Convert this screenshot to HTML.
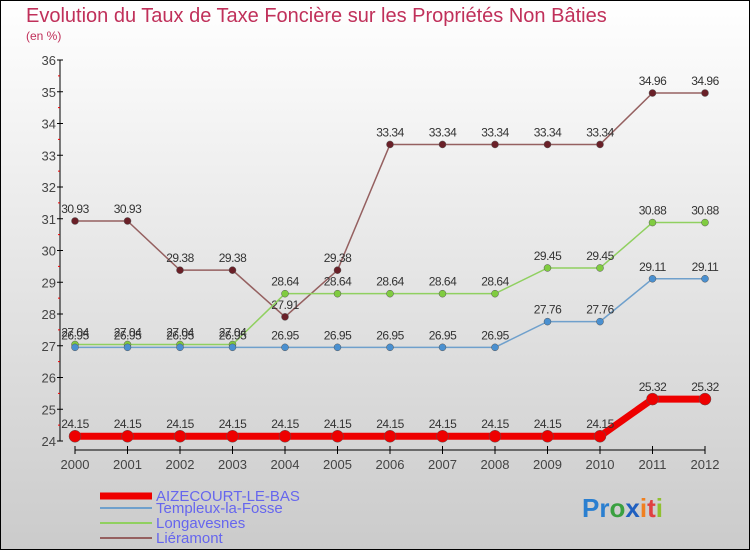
<!DOCTYPE html>
<html><head><meta charset="utf-8"><style>
body{margin:0}
svg{display:block;font-family:"Liberation Sans",sans-serif}
</style></head><body>
<svg width="750" height="550" viewBox="0 0 750 550">
<defs><linearGradient id="bg" x1="0" y1="0" x2="0" y2="1"><stop offset="0" stop-color="#ffffff"/><stop offset="1" stop-color="#cbcbcb"/></linearGradient></defs>
<rect x="0.5" y="0.5" width="749" height="549" fill="url(#bg)" stroke="#000"/>
<text x="26" y="22" font-size="20" fill="#c0305a">Evolution du Taux de Taxe Foncière sur les Propriétés Non Bâties</text>
<text x="26" y="40" font-size="12" fill="#c0305a">(en %)</text>
<g id="axes"></g>
<g id="series"></g>
<g id="legend" font-size="15">
<line x1="100" y1="496" x2="152" y2="496" stroke="#e00" stroke-width="7"/>
<text x="156" y="501" fill="#6666ee">AIZECOURT-LE-BAS</text>
<line x1="100" y1="508" x2="152" y2="508" stroke="#6fa0cc" stroke-width="2"/>
<text x="156" y="513" fill="#6666ee">Templeux-la-Fosse</text>
<line x1="100" y1="523" x2="152" y2="523" stroke="#90d060" stroke-width="2"/>
<text x="156" y="528" fill="#6666ee">Longavesnes</text>
<line x1="100" y1="538" x2="152" y2="538" stroke="#956060" stroke-width="2"/>
<text x="156" y="543" fill="#6666ee">Liéramont</text>
</g>
<text x="582" y="517" font-size="26" font-weight="bold"><tspan fill="#2a7fd0">Pr</tspan><tspan fill="#3aa040">o</tspan><tspan fill="#2060c0">x</tspan><tspan fill="#f08020">i</tspan><tspan fill="#e04040">t</tspan><tspan fill="#90c030">i</tspan></text>
</svg>
<script>
const years=[2000,2001,2002,2003,2004,2005,2006,2007,2008,2009,2010,2011,2012];
const yTicks=[24,25,26,27,28,29,30,31,32,33,34,35,36];
const aizecourt=[24.15,24.15,24.15,24.15,24.15,24.15,24.15,24.15,24.15,24.15,24.15,25.32,25.32];
const templeux=[26.95,26.95,26.95,26.95,26.95,26.95,26.95,26.95,26.95,27.76,27.76,29.11,29.11];
const longavesnes=[27.04,27.04,27.04,27.04,28.64,28.64,28.64,28.64,28.64,29.45,29.45,30.88,30.88];
const lieramont=[30.93,30.93,29.38,29.38,27.91,29.38,33.34,33.34,33.34,33.34,33.34,34.96,34.96];
const NS='http://www.w3.org/2000/svg';
const X=i=>75+i*52.5;
const Y=v=>441-(v-24)*31.75;
function mk(tag,attrs,parent){const e=document.createElementNS(NS,tag);for(const k in attrs)e.setAttribute(k,attrs[k]);parent.appendChild(e);return e;}
const ax=document.getElementById('axes');
let a=mk('line',{x1:60,y1:Y(36),x2:60,y2:Y(24),stroke:'#000'},ax);


a=mk('line',{x1:75,y1:450,x2:X(12),y2:450,stroke:'#000'},ax);


yTicks.forEach(v=>{
 mk('line',{x1:57,y1:Y(v),x2:63,y2:Y(v),stroke:'#000'},ax);
 if(v<36)mk('line',{x1:58,y1:Y(v+0.5),x2:60,y2:Y(v+0.5),stroke:'#e00'},ax);
 const t=mk('text',{x:56,y:Y(v)+5,'text-anchor':'end','font-size':13,fill:'#444'},ax);
 t.textContent=v;
 
 
});
years.forEach((y,i)=>{
 mk('line',{x1:X(i),y1:446,x2:X(i),y2:454,stroke:'#000'},ax);
 const t=mk('text',{x:X(i),y:469,'text-anchor':'middle','font-size':13,fill:'#444'},ax);
 t.textContent=y;
 
 
});
const sg=document.getElementById('series');
function series(data,color,dot,width,r,name){
 const g=mk('g',{},sg);
 
 
 const p=mk('polyline',{points:data.map((v,i)=>X(i)+','+Y(v)).join(' '),fill:'none',stroke:color,'stroke-width':width},g);
 
 
 data.forEach((v,i)=>{
  const c=mk('circle',{cx:X(i),cy:Y(v),r:r,fill:dot,stroke:'#555','stroke-width':0.5},g);
  
  
  const t=mk('text',{x:X(i),y:Y(v)-8,'text-anchor':'middle','font-size':12,fill:'#333','letter-spacing':'-0.5'},g);
  t.textContent=v.toFixed(2);
  
  
 });
}
series(lieramont,'#956060','#6a2028',1.5,3.5,'lieramont');
series(longavesnes,'#90d060','#80cc40',1.5,3.5,'longavesnes');
series(templeux,'#6fa0cc','#4a90d0',1.5,3.5,'templeux');
series(aizecourt,'#ee0000','#ee0000',7,6,'aizecourt');
</script>
</body></html>
